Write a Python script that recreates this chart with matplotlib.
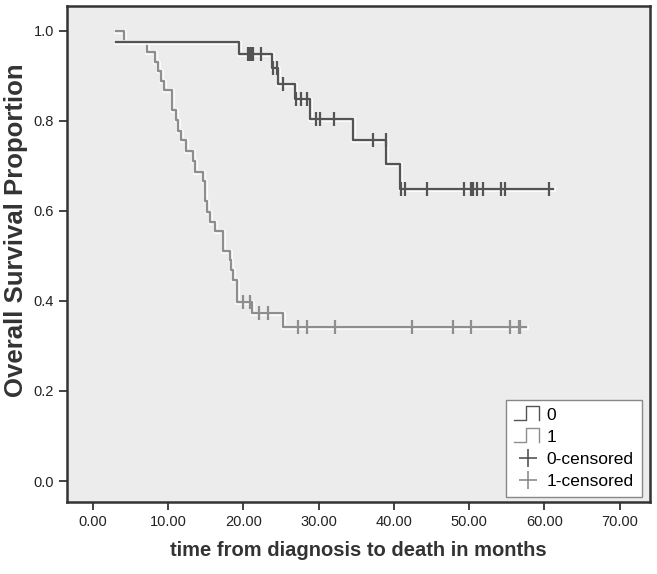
import numpy as np
import matplotlib
matplotlib.use("Agg")
import matplotlib.pyplot as plt
import matplotlib.patheffects as pe
from matplotlib.lines import Line2D
from matplotlib.legend_handler import HandlerBase

plt.rcParams['font.family'] = ['Liberation Sans', 'DejaVu Sans']

# group 0: curve start, drop times and survival after each drop
g0_start, g0_end = 3.0, 61.1
g0_times = [19.4, 23.8, 24.6, 26.8, 28.9, 34.5, 39.0, 40.8]
g0_surv = [0.975, 0.947, 0.916, 0.882, 0.847, 0.804, 0.756, 0.704, 0.649]
g0_cens = [20.6, 20.9, 21.2, 21.3, 22.3, 23.9, 24.4, 25.2, 27.0, 27.6, 28.4,
           29.7, 30.2, 32.0, 37.2, 38.9, 40.9, 41.5, 44.4, 49.3, 50.3, 50.5,
           51.0, 51.9, 54.2, 54.7, 60.6]

# group 1
g1_start, g1_end = 3.0, 57.5
g1_times = [4.1, 7.2, 8.3, 8.7, 9.1, 9.5, 10.5, 11.0, 11.3, 11.7, 12.4, 13.3,
            13.6, 14.6, 14.9, 15.1, 15.5, 16.2, 17.3, 18.2, 18.4, 18.6, 19.2,
            21.1, 25.2]
g1_surv = [1.0, 0.975, 0.953, 0.930, 0.910, 0.887, 0.867, 0.823, 0.802, 0.776,
           0.756, 0.732, 0.710, 0.687, 0.665, 0.621, 0.598, 0.576, 0.554,
           0.511, 0.491, 0.469, 0.447, 0.398, 0.373, 0.343]
g1_cens = [19.9, 20.9, 22.1, 23.3, 27.3, 28.5, 32.2, 42.4, 47.9, 50.2, 55.4,
           56.6, 56.8]

c0 = '#545454'
c1 = '#8e8e8e'


def step_xy(start, end, times, surv):
    x = np.concatenate([[start], times, [end]])
    y = np.concatenate([surv, [surv[-1]]])
    return x, y


def surv_at(t, times, surv):
    return np.array(surv)[np.searchsorted(times, t, side='right')]


class StepHandler(HandlerBase):
    def create_artists(self, legend, orig_handle, xd, yd, w, h, fontsize, trans):
        xs = np.array([0, 0.45, 0.45, 0.9, 0.9]) * w - xd
        ys = np.array([0.0, 0.0, 1.2, 1.2, 0.0]) * h - yd
        ln = Line2D(xs, ys, color=orig_handle.get_color(), lw=1.0, transform=trans)
        return [ln]


fig = plt.figure(figsize=(6.57, 5.74), dpi=100)
ax = fig.add_axes([0.102, 0.125, 0.887, 0.865])
ax.set_facecolor('#ececec')

halo = [pe.Stroke(linewidth=3.4, foreground='white'), pe.Normal()]

x0, y0 = step_xy(g0_start, g0_end, g0_times, g0_surv)
x1, y1 = step_xy(g1_start, g1_end, g1_times, g1_surv)
l1, = ax.step(x1, y1, where='post', color=c1, lw=1.7, path_effects=halo, zorder=2)
l0, = ax.step(x0, y0, where='post', color=c0, lw=1.7, path_effects=halo, zorder=3)

m1, = ax.plot(g1_cens, surv_at(g1_cens, g1_times, g1_surv), ls='none',
              marker='|', ms=10, mew=1.6, color=c1, zorder=4)
m0, = ax.plot(g0_cens, surv_at(g0_cens, g0_times, g0_surv), ls='none',
              marker='|', ms=10, mew=1.6, color=c0, zorder=5)

ax.set_xlim(-3.45, 74.0)
ax.set_ylim(-0.047, 1.055)
ax.set_xticks(np.arange(0, 71, 10))
ax.set_xticklabels(['%.2f' % v for v in np.arange(0, 71, 10)])
ax.set_yticks(np.arange(0, 1.01, 0.2))
ax.set_yticklabels(['%.1f' % v for v in np.arange(0, 1.01, 0.2)])
ax.tick_params(direction='out', length=6, width=1.2, labelsize=10.5, colors='#222222')

for s in ax.spines.values():
    s.set_linewidth(1.8)
    s.set_color('#333333')

ax.set_xlabel('time from diagnosis to death in months', fontsize=14.5,
              fontweight='bold', color='#333333', labelpad=8)
ax.set_ylabel('Overall Survival Proportion', fontsize=18.5, fontweight='bold',
              color='#333333')
ax.yaxis.set_label_coords(-0.067, 0.548)

h0 = Line2D([], [], color=c0)
h1 = Line2D([], [], color=c1)
hc0 = Line2D([], [], ls='none', marker='+', ms=13, mew=1.2, color=c0)
hc1 = Line2D([], [], ls='none', marker='+', ms=13, mew=1.2, color=c1)
leg = ax.legend([h0, h1, hc0, hc1], ['0', '1', '0-censored', '1-censored'],
                handler_map={h0: StepHandler(), h1: StepHandler()},
                loc='lower right', bbox_to_anchor=(0.986, 0.01), borderaxespad=0,
                fontsize=12.5, frameon=True, fancybox=False, framealpha=1,
                edgecolor='#888888', facecolor='white', handlelength=1.6,
                handletextpad=0.3, labelspacing=0.4, borderpad=0.45)
leg.get_frame().set_linewidth(1.0)

fig.savefig('out.png', dpi=100)
